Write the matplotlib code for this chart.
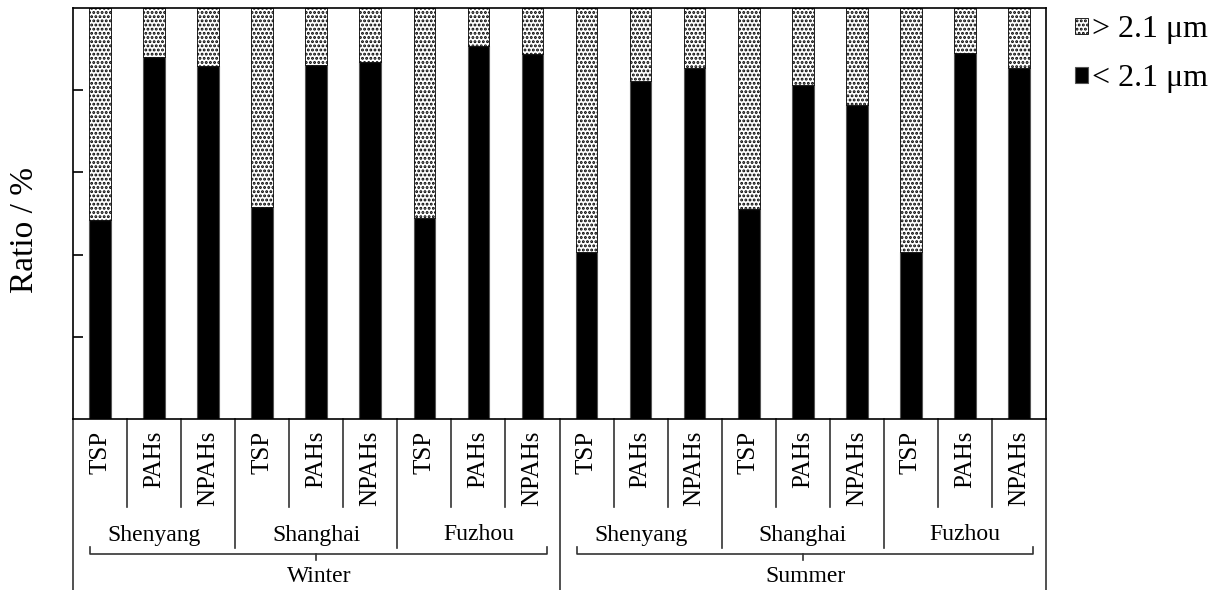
import matplotlib
matplotlib.use("Agg")
import matplotlib.pyplot as plt
import matplotlib.transforms as mtransforms
import numpy as np

plt.rcParams['font.family'] = ['Liberation Serif', 'DejaVu Serif']
plt.rcParams['hatch.linewidth'] = 1.4

seasons = ["Winter", "Summer"]
cities = ["Shenyang", "Shanghai", "Fuzhou"]
species = ["TSP", "PAHs", "NPAHs"]
# fraction (%) below 2.1 um, order: season -> city -> species
fine_winter = [48.3, 88.1, 85.9, 51.7, 86.2, 86.9, 48.9, 90.8, 88.9]
fine_summer = [40.6, 82.3, 85.3, 51.0, 81.2, 76.3, 40.6, 89.1, 85.4]
legend_labels = ["> 2.1 μm", "< 2.1 μm"]

fine = np.array(fine_winter + fine_summer)
coarse = 100 - fine
n = len(fine)
x = np.arange(n)

W, H = 1217, 590
fig = plt.figure(figsize=(W / 100, H / 100), dpi=100)
ax = fig.add_axes([73 / W, 1 - 419 / H, (1046 - 73) / W, (419 - 8) / H])

bw = 0.4
b1 = ax.bar(x, fine, bw, color='black', edgecolor='#555555', linewidth=0.8, label=legend_labels[1])
b2 = ax.bar(x, coarse, bw, bottom=fine, color='white', edgecolor='black', linewidth=0.6,
            hatch='....', label=legend_labels[0])

ax.set_xlim(-0.5, n - 0.5)
ax.set_ylim(0, 100)
ax.set_yticks([20, 40, 60, 80])
ax.set_yticklabels([])
ax.tick_params(axis='y', direction='in', length=7, width=1.2)
ax.set_xticks([])
for s in ax.spines.values():
    s.set_linewidth(1.2)

fig.text(25 / W, 1 - 230 / H, "Ratio / %", rotation=90, ha='center', va='center', fontsize=24)

tr = mtransforms.blended_transform_factory(ax.transData, fig.transFigure)
def fy(py):
    return 1 - py / H

lc = '#333333'
lw = 1.2
# separators under axis
for b in range(1, n):
    xb = b - 0.5
    if b % 9 == 0:
        y_end = H
    elif b % 3 == 0:
        y_end = 548
    else:
        y_end = 507
    ax.plot([xb, xb], [fy(419), fy(y_end)], color=lc, lw=lw, transform=tr, clip_on=False)
# outer spines extended
for xb in [-0.5, n - 0.5]:
    ax.plot([xb, xb], [fy(419), fy(H)], color=lc, lw=lw, transform=tr, clip_on=False)

# species labels
for i in range(n):
    ax.text(x[i], fy(431), species[i % 3], rotation=90, ha='center', va='top',
            fontsize=18, transform=tr)
# city labels
for si in range(2):
    for ci, c in enumerate(cities):
        xc = si * 9 + ci * 3 + 1
        ax.text(xc, fy(535), c, ha='center', va='center', fontsize=17, transform=tr)
# braces and season labels
for si, s in enumerate(seasons):
    x0 = si * 9 - 0.18
    x1 = si * 9 + 8.26
    xm = si * 9 + 4
    yl = fy(554)
    ax.plot([x0, x0, x1, x1], [fy(547), yl, yl, fy(547)], color=lc, lw=lw,
            transform=tr, clip_on=False)
    ax.plot([xm, xm], [yl, fy(560)], color=lc, lw=lw, transform=tr, clip_on=False)
    ax.text(xm + 0.05, fy(576), s, ha='center', va='center', fontsize=17, transform=tr)

leg = fig.legend([b2, b1], legend_labels, loc='upper left',
                 bbox_to_anchor=(1069 / W, 1 - 9 / H), frameon=False, fontsize=23,
                 handlelength=0.4, handleheight=0.4, handletextpad=0.12,
                 labelspacing=0.62, borderpad=0.2, borderaxespad=0)

fig.savefig("out.png", dpi=100)
